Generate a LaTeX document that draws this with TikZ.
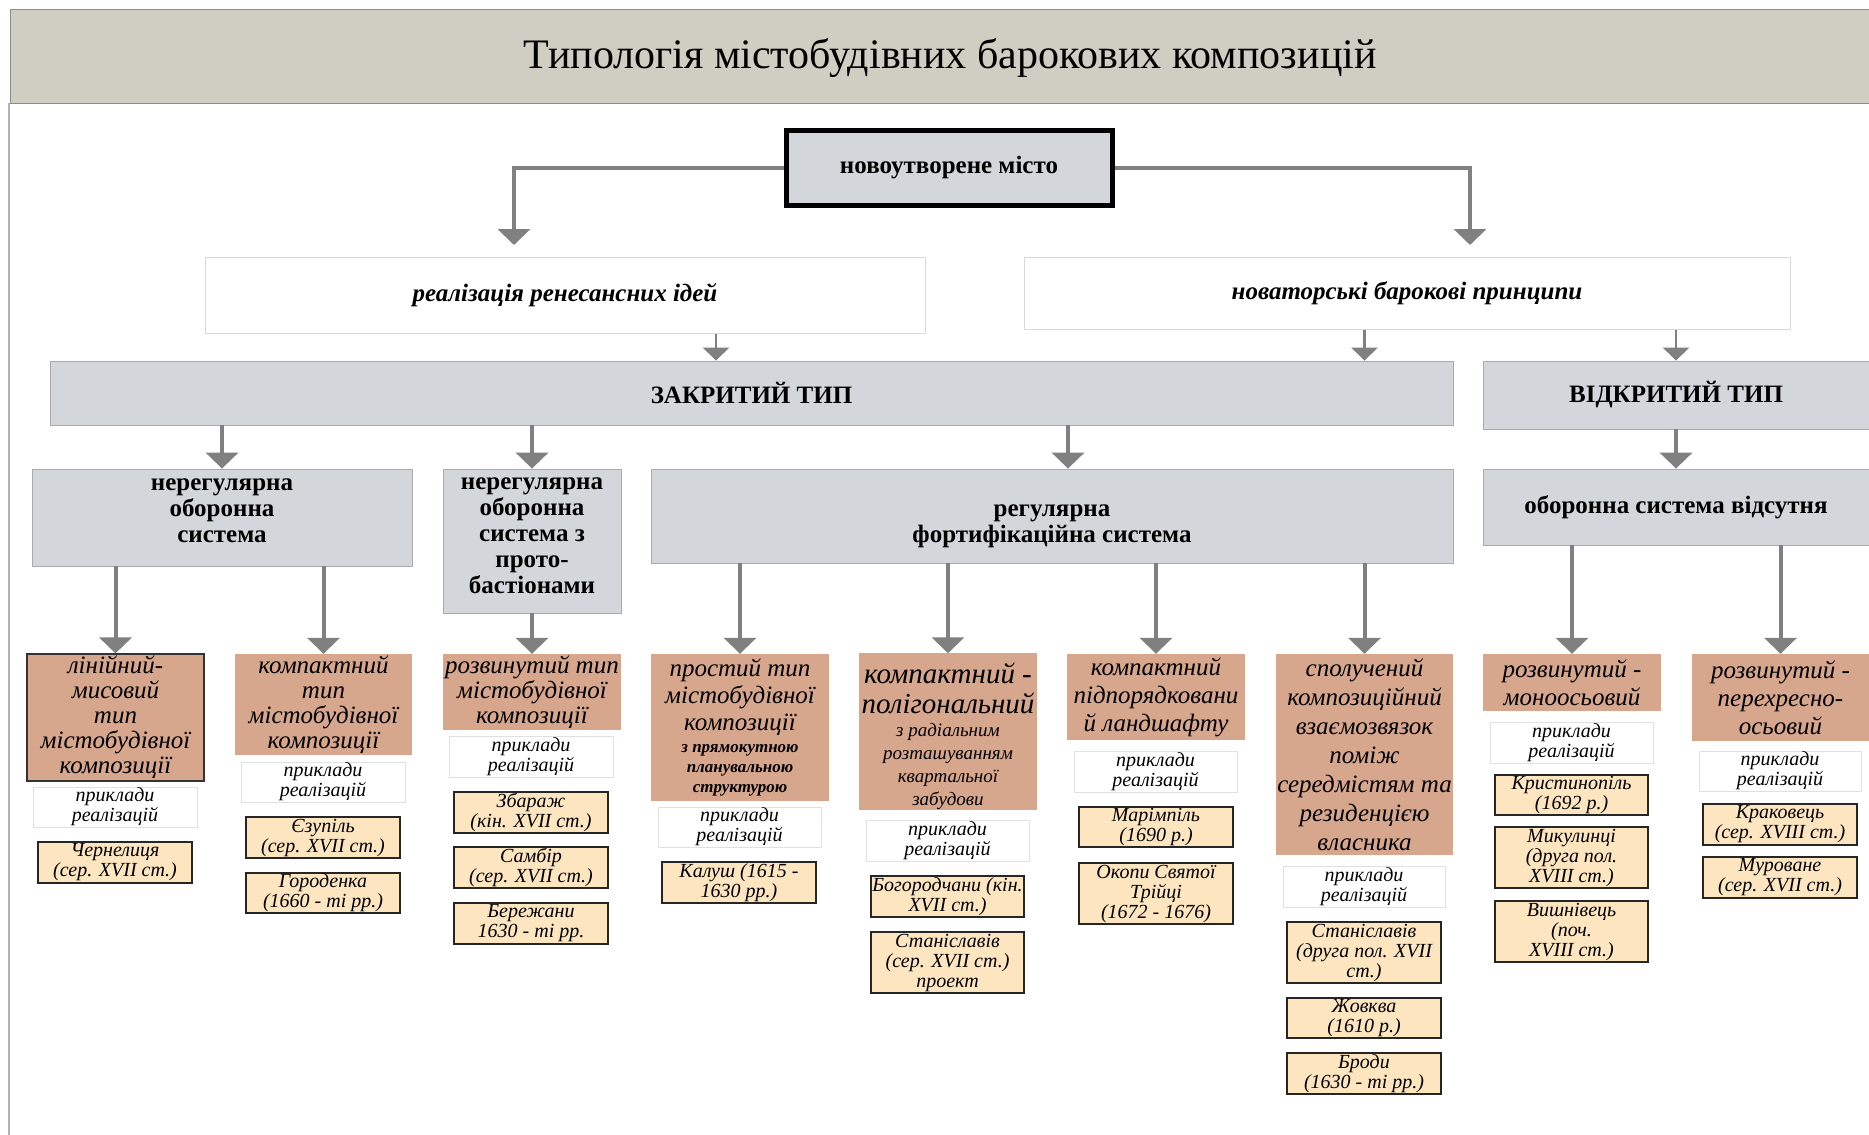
\documentclass[tikz,border=0pt]{standalone}
\usepackage{fontspec}
\setmainfont{Liberation Serif}
\usetikzlibrary{arrows.meta, positioning, calc}

\definecolor{bandgray}{RGB}{208,205,194}
\definecolor{boxgray}{RGB}{211,214,218}
\definecolor{typebrown}{RGB}{214,166,141}
\definecolor{excream}{RGB}{253,229,192}
\definecolor{arrowgray}{RGB}{128,128,128}

\begin{document}
\begin{tikzpicture}[
    x=1pt, y=-1pt,
    >={Triangle[width=32pt, length=16pt]},
    graybox/.style={fill=boxgray, draw=boxgray!80!black, line width=0.8pt, inner sep=0pt, align=center, font={\fontsize{25}{26}\selectfont\bfseries}},
    whitebox/.style={fill=white, draw=black!15, line width=1pt, inner sep=0pt, align=center, font={\fontsize{25}{27}\selectfont\bfseries\itshape}},
    typebox/.style={fill=typebrown, inner sep=0pt, align=center, font={\fontsize{25}{25}\selectfont\itshape}},
    refbox/.style={fill=white, draw=black!12, line width=1pt, inner sep=0pt, align=center, font={\fontsize{20}{20}\selectfont\itshape}},
    exbox/.style={fill=excream, draw=black!85, line width=1.8pt, inner sep=0pt, align=center, font={\fontsize{20}{20}\selectfont\itshape}},
    arr/.style={draw=arrowgray, line width=4pt, ->},
    smallarr/.style={draw=arrowgray, line width=2.5pt, -{Triangle[width=26pt, length=13pt]}},
    ]

    \clip (0,0) rectangle (1869,1135);

    % Box given by its corners: name, style, x1, y1, x2, y2, text
    \newcommand{\boxnode}[7]{
        \node[#2, minimum width={#5-#3}, minimum height={#6-#4}] (#1) at ({(#3+#5)/2},{(#4+#6)/2}) {#7};
    }
    \newcommand{\smalltext}[1]{{\fontsize{17}{19}\selectfont #1}}
    \newcommand{\smallerline}[1]{{\fontsize{19}{21}\selectfont #1}}

    % ==========================================
    % Title band
    % ==========================================
    \boxnode{title}{fill=bandgray, draw=black!45, line width=1pt, font={\fontsize{42}{44}\selectfont}}{10}{9}{1890}{103}{\rule{0pt}{34pt}Типологія містобудівних барокових композицій}
    \draw[black!30, line width=2pt] (9,103) -- (9,1135);

    % ==========================================
    % Upper levels
    % ==========================================
    \boxnode{root}{graybox, draw=black, line width=5pt}{786}{130}{1112}{205}{новоутворене місто}

    \boxnode{real}{whitebox}{205}{257}{925}{333}{реалізація ренесансних ідей}
    \boxnode{nov}{whitebox}{1024}{257}{1790}{329}{новаторські барокові принципи}

    \boxnode{closed}{graybox}{50}{361}{1453}{425}{ЗАКРИТИЙ ТИП}
    \boxnode{open}{graybox}{1483}{361}{1869}{429}{ВІДКРИТИЙ ТИП}

    \boxnode{irr}{graybox}{32}{469}{412}{566}{нерегулярна\\оборонна\\система\rule[-14pt]{0pt}{1pt}}
    \boxnode{proto}{graybox}{443}{469}{621}{613}{нерегулярна\\оборонна\\система з\\прото-\\бастіонами\rule[-11pt]{0pt}{1pt}}
    \boxnode{reg}{graybox}{651}{469}{1453}{563}{\rule{0pt}{33pt}регулярна\\фортифікаційна система}
    \boxnode{nodef}{graybox}{1483}{469}{1869}{545}{оборонна система відсутня}

    % ==========================================
    % Composition types
    % ==========================================
    \boxnode{lin}{typebox, draw=black!80, line width=1.2pt}{27}{654}{204}{781}{лінійний-\\мисовий\\тип\\містобудівної\\композиції}
    \boxnode{compact}{typebox}{235}{654}{412}{755}{компактний\\тип\\містобудівної\\композиції}
    \boxnode{devel}{typebox}{443}{654}{621}{730}{розвинутий тип\\містобудівної\\композиції}
    \boxnode{simple}{typebox, font={\fontsize{25}{27}\selectfont\itshape}}{651}{654}{829}{801}{простий тип\\містобудівної\\композиції\\[-5pt]\smalltext{\bfseries з прямокутною}\\[-7pt]\smalltext{\bfseries планувальною}\\[-7pt]\smalltext{\bfseries структурою}}
    \boxnode{poly}{typebox, font={\fontsize{29}{30}\selectfont\itshape}}{859}{654}{1037}{809}{\rule{0pt}{30pt}компактний -\\полігональний\\[-7pt]\smallerline{з радіальним}\\[-7pt]\smallerline{розташуванням}\\[-7pt]\smallerline{квартальної}\\[-7pt]\smallerline{забудови}}
    \boxnode{land}{typebox, font={\fontsize{25}{28}\selectfont\itshape}}{1067}{654}{1245}{740}{компактний\\підпорядковани\\й ландшафту}
    \boxnode{comb}{typebox, font={\fontsize{25}{29}\selectfont\itshape}}{1276}{654}{1453}{855}{сполучений\\композиційний\\взаємозвязок\\поміж\\середмістям та\\резиденцією\\власника}
    \boxnode{mono}{typebox, font={\fontsize{25}{28}\selectfont\itshape}}{1483}{654}{1661}{711}{розвинутий -\\моноосьовий}
    \boxnode{cross}{typebox, font={\fontsize{25}{28}\selectfont\itshape}}{1692}{654}{1869}{741}{розвинутий -\\перехресно-\\осьовий}

    % "приклади реалізацій" under every type
    \foreach \name/\xa/\ya/\xb/\yb in {
        lin/33/787/197/827,
        compact/241/762/405/802,
        devel/449/736/613/777,
        simple/658/807/821/847,
        poly/866/820/1029/861,
        land/1074/751/1237/792,
        comb/1283/866/1445/907,
        mono/1490/722/1653/763,
        cross/1699/751/1861/791}
    {
        \boxnode{ref-\name}{refbox}{\xa}{\ya}{\xb}{\yb}{приклади\\реалізацій}
    }

    % ==========================================
    % Examples
    % ==========================================
    \boxnode{chern}{exbox}{38}{842}{192}{883}{Чернелиця\\(сер. XVII ст.)}
    \boxnode{yezup}{exbox}{246}{817}{400}{858}{Єзупіль\\(сер. XVII ст.)}
    \boxnode{horod}{exbox}{246}{873}{400}{913}{Городенка\\(1660 - ті рр.)}
    \boxnode{zbar}{exbox}{454}{792}{608}{833}{Збараж\\(кін. XVII ст.)}
    \boxnode{sambir}{exbox}{454}{847}{608}{888}{Самбір\\(сер. XVII ст.)}
    \boxnode{berezh}{exbox}{454}{903}{608}{944}{Бережани\\1630 - ті рр.}
    \boxnode{kalush}{exbox}{662}{862}{816}{903}{Калуш (1615 -\\1630 рр.)}
    \boxnode{bohor}{exbox}{871}{876}{1024}{917}{Богородчани (кін.\\XVII ст.)}
    \boxnode{stan}{exbox}{871}{932}{1024}{993}{Станіславів\\(сер. XVII ст.)\\проект}
    \boxnode{marim}{exbox}{1079}{807}{1233}{847}{Марімпіль\\(1690 р.)}
    \boxnode{okopy}{exbox}{1079}{863}{1233}{924}{Окопи Святої\\Трійці\\(1672 - 1676)}
    \boxnode{stanb}{exbox}{1287}{922}{1441}{983}{Станіславів\\(друга пол. XVII\\ст.)}
    \boxnode{zhovk}{exbox}{1287}{998}{1441}{1038}{Жовква\\(1610 р.)}
    \boxnode{brody}{exbox}{1287}{1053}{1441}{1094}{Броди\\(1630 - ті рр.)}
    \boxnode{kryst}{exbox}{1495}{775}{1648}{815}{Кристинопіль\\(1692 р.)}
    \boxnode{mykul}{exbox}{1495}{827}{1648}{888}{Микулинці\\(друга пол.\\XVIII ст.)}
    \boxnode{vyshn}{exbox}{1495}{901}{1648}{962}{Вишнівець\\(поч.\\XVIII ст.)}
    \boxnode{krak}{exbox}{1703}{804}{1857}{845}{Краковець\\(сер. XVIII ст.)}
    \boxnode{murov}{exbox}{1703}{857}{1857}{898}{Муроване\\(сер. XVII ст.)}

    % ==========================================
    % Arrows
    % ==========================================
    \coordinate (realin) at (514,245);
    \coordinate (novin) at (1470,245);
    \draw[arr] (root.west) -| (realin);
    \draw[arr] (root.east) -| (novin);

    \draw[smallarr] ([xshift=151pt]real.south) -- ([xshift=151pt]real.south |- closed.north);
    \draw[smallarr] (nov.south -| comb.north) -- (closed.north -| comb.north);
    \draw[smallarr] (nov.south -| open.north) -- (open.north);

    \draw[arr] (closed.south -| irr.north) -- (irr.north);
    \draw[arr] (closed.south -| proto.north) -- (proto.north);
    \draw[arr] ([xshift=16pt]reg.north |- closed.south) -- ([xshift=16pt]reg.north);
    \draw[arr] (open.south) -- (nodef.north);

    \foreach \from/\to in {irr/lin, irr/compact, proto/devel, reg/simple, reg/poly, reg/land, reg/comb, nodef/mono, nodef/cross}
        \draw[arr] (\from.south -| \to.north) -- (\to.north);

\end{tikzpicture}
\end{document}
